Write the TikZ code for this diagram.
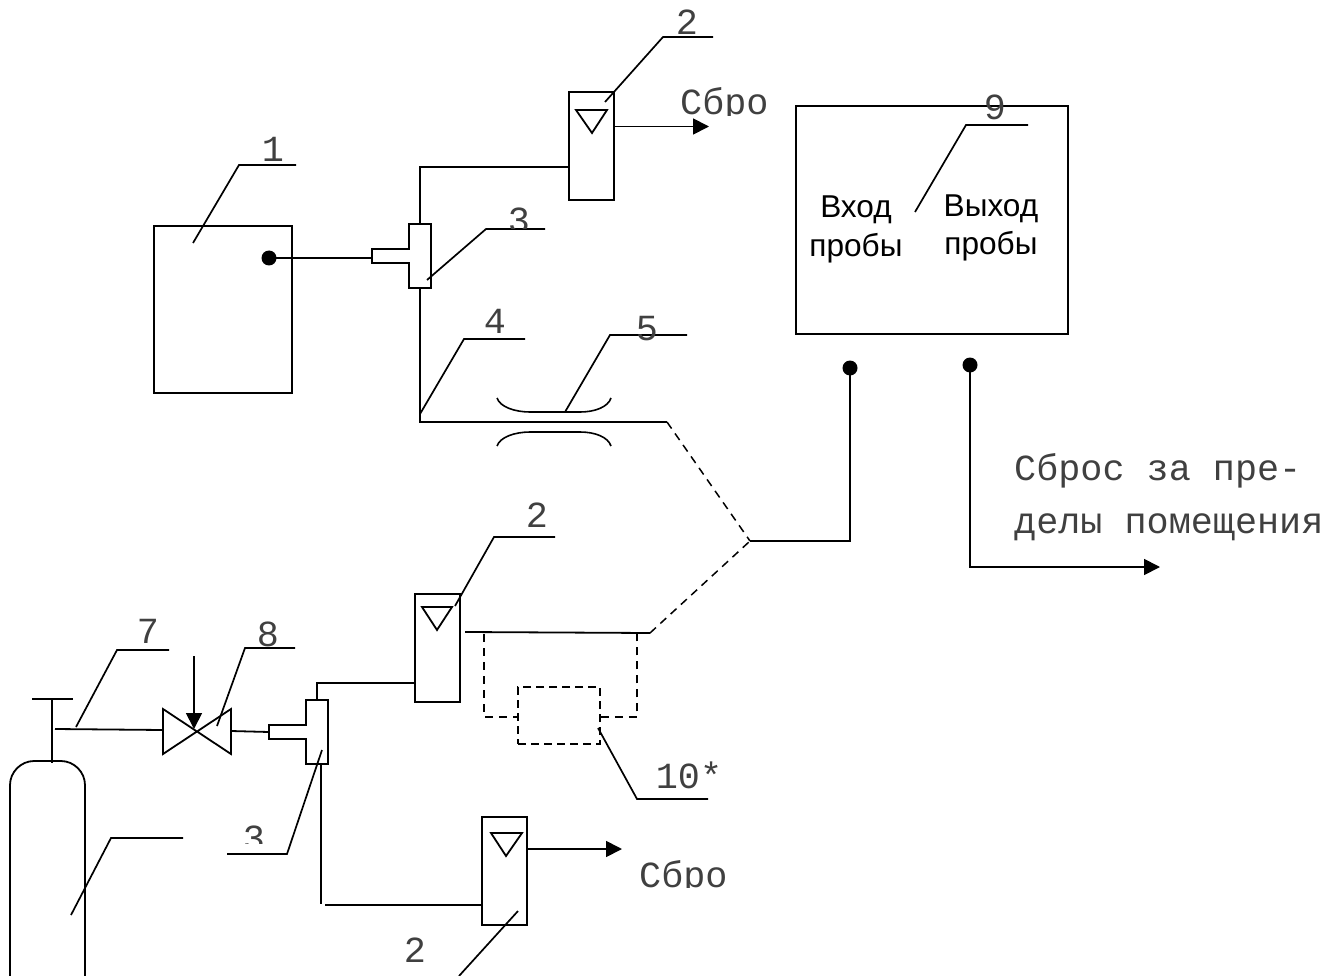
\documentclass[tikz,border=0pt]{standalone}
\usepackage{fontspec}
\setmainfont{Liberation Sans}
\newfontfamily\monof{Liberation Mono}
\usetikzlibrary{arrows.meta,calc}
\tikzset{
  ln/.style={line width=1.8pt,line cap=butt,line join=miter},
  thinln/.style={line width=1.6pt},
  dsh/.style={line width=1.5pt,dash pattern=on 8pt off 6pt},
  flow/.style={ln,-{Triangle[length=16pt,width=16pt]}},
  boxx/.style={draw,line width=1.8pt,inner sep=0pt,outer sep=0pt,rectangle},
  dotn/.style={circle,fill=black,inner sep=0pt,minimum size=15pt},
  mono/.style={inner sep=0pt,anchor=base,text=black!75,font=\monof\fontsize{36.8}{40}\selectfont},
  monol/.style={mono,anchor=base west},
  sans/.style={inner sep=0pt,anchor=center,font=\fontsize{31.6}{36}\selectfont},
  lead/.style={line width=1.7pt,line join=miter}
}
\begin{document}
\begin{tikzpicture}[x=1pt,y=-1pt]
\clip (0,0) rectangle (1343,976);
\fill[white] (0,0) rectangle (1343,976);
% boxes
\node[boxx,minimum width=138pt,minimum height=167pt] (box1) at (223,309.5) {};
\node[boxx,minimum width=272pt,minimum height=228pt] (box9) at (932,220) {};
\node[boxx,minimum width=45pt,minimum height=108pt] (rotA) at (591.5,146) {};
\node[boxx,minimum width=45pt,minimum height=108pt] (rotB) at (437.5,648) {};
\node[boxx,minimum width=45pt,minimum height=108pt] (rotC) at (504.5,871) {};
\draw[ln] (576,110) -- (607,110) -- (592,133) -- cycle;
\draw[ln] (422,607) -- (452,607) -- (437,630) -- cycle;
\draw[ln] (491,833) -- (522,833) -- (506,856) -- cycle;
\node[dotn] (dot1) at (269,258) {};
\node[dotn] (dotIn) at (850,368) {};
\node[dotn] (dotOut) at (970,365) {};
% tees
\draw[ln] (409,224) -- (431,224) -- (431,288) -- (409,288) -- (409,263) -- (372,263) -- (372,249) -- (409,249) -- cycle;
\draw[ln] (306,700) -- (328,700) -- (328,764) -- (306,764) -- (306,739) -- (269,739) -- (269,725) -- (306,725) -- cycle;
\coordinate (teeAw) at (372,258);
\coordinate (teeAn) at (420,224);
\coordinate (teeAs) at (420,288);
\coordinate (teeBw) at (269,732);
\coordinate (teeBn) at (317,700);
\coordinate (teeBs) at (321,764);
% upper pipes
\draw[ln] (dot1.center) -- (teeAw);
\draw[ln] (teeAn) |- (rotA.west |- 0,167);
\draw[flow] (rotA.east |- 0,126.5) -- (709,126.5);
\coordinate (pipeEnd) at (667,422);
\coordinate (junc) at (750,541);
\draw[ln] (teeAs) |- (pipeEnd);
\draw[dsh] (pipeEnd) -- (junc);
\draw[ln] (junc) -| (dotIn.center);
\draw[flow] (dotOut.center) |- (1160,567);
% venturi
\draw[thinln] (497,398) .. controls (500,407) and (515,412) .. (530,412) -- (580,412) .. controls (595,412) and (608,407) .. (611,398);
\draw[thinln] (497,446) .. controls (500,437) and (515,432) .. (530,432) -- (580,432) .. controls (595,432) and (608,437) .. (611,446);
% lower pipes
\coordinate (midL) at (465,632);
\coordinate (midR) at (650,633);
\draw[ln] (midL) -- (midR);
\draw[dsh] (midR) -- (junc);
\node[draw,dash pattern=on 8pt off 5pt,line width=1.5pt,inner sep=0pt,minimum width=82pt,minimum height=57pt] (box10) at (559,715.5) {};
\draw[dsh] (484,634) -- (484,717) -- (box10.west |- 0,717);
\draw[dsh] (box10.east |- 0,717) -- (637,717) -- (637,634);
\draw[ln] (teeBn) |- (rotB.west |- 0,683);
\draw[ln] (teeBs) -- (321,904);
\draw[ln] (325,905) -- (rotC.west |- 0,905);
\draw[flow] (rotC.east |- 0,849) -- (622,849);
% valve
\draw[ln] (163,709) -- (231,754) -- (231,709) -- (163,754) -- cycle;
\coordinate (valveW) at (163,730);
\coordinate (valveE) at (231,731);
\coordinate (valveTop) at (194,656);
\coordinate (valveC) at (194,729);
\coordinate (stemJ) at (55,729);
\draw[ln] (stemJ) -- (valveW);
\draw[ln] (valveE) -- (teeBw);
\draw[flow] (valveTop) -- (valveC);
% cylinder
\draw[ln] (10,980) -- (10,785) .. controls (10,772) and (21,761) .. (34,761) -- (61,761) .. controls (74,761) and (85,772) .. (85,785) -- (85,980);
\draw[ln] (52,699) -- (52,763);
\draw[ln] (32,699) -- (73,699);
% leaders
\draw[lead] (605,102) -- (663,37) -- (713,37);
\draw[lead] (193,243) -- (239,165) -- (296,165);
\draw[lead] (427,280) -- (486,229) -- (545,229);
\draw[lead] (420,414) -- (464,339) -- (525,339);
\draw[lead] (565,412) -- (610,335) -- (687,335);
\draw[lead] (915,212) -- (966,125) -- (1028,125);
\draw[lead] (455,606) -- (494,537) -- (555,537);
\draw[lead] (598,728) -- (637,799) -- (708,799);
\draw[lead] (76,727) -- (117,650) -- (169,650);
\draw[lead] (217,726) -- (245,648) -- (295,648);
\draw[lead] (71,915) -- (111,838) -- (183,838);
\draw[lead] (322,750) -- (287,854) -- (227,854);
\draw[lead] (518,911) -- (459,976);
% labels
\node[mono] (l2a) at (687,35) {2};
\node[mono] (l1) at (273,162) {1};
\node[mono] (l4) at (495,333) {4};
\node[mono] (l5) at (647,340) {5};
\node[mono] (l9) at (995,120) {9};
\node[mono] (l2b) at (537,527) {2};
\node[mono] (l7) at (148,643) {7};
\node[mono] (l8) at (268,646) {8};
\node[mono] (l10) at (689,788) {10*};
\node[mono] (l2c) at (415,962) {2};
\begin{scope}
\clip (480,190) rectangle (560,228.5);
\node[mono] (l3a) at (519,233) {3};
\end{scope}
\begin{scope}
\clip (230,800) rectangle (280,843);
\node[mono] (l3b) at (254,850) {3};
\end{scope}
\begin{scope}
\clip (670,80) rectangle (780,116);
\node[monol] (sbA) at (680,115) {Сбро};
\end{scope}
\begin{scope}
\clip (630,850) rectangle (740,887.5);
\node[monol] (sbB) at (639,887) {Сбро};
\end{scope}
\node[monol] (s1) at (1014,480) {Сброс за пре-};
\node[monol] (s2) at (1014,533) {делы помещения};
\node[sans] (vh1) at (856,210) {Вход};
\node[sans] (vh2) at (856,248) {пробы};
\node[sans] (vy1) at (991,209) {Выход};
\node[sans] (vy2) at (991,246) {пробы};
\end{tikzpicture}
\end{document}
